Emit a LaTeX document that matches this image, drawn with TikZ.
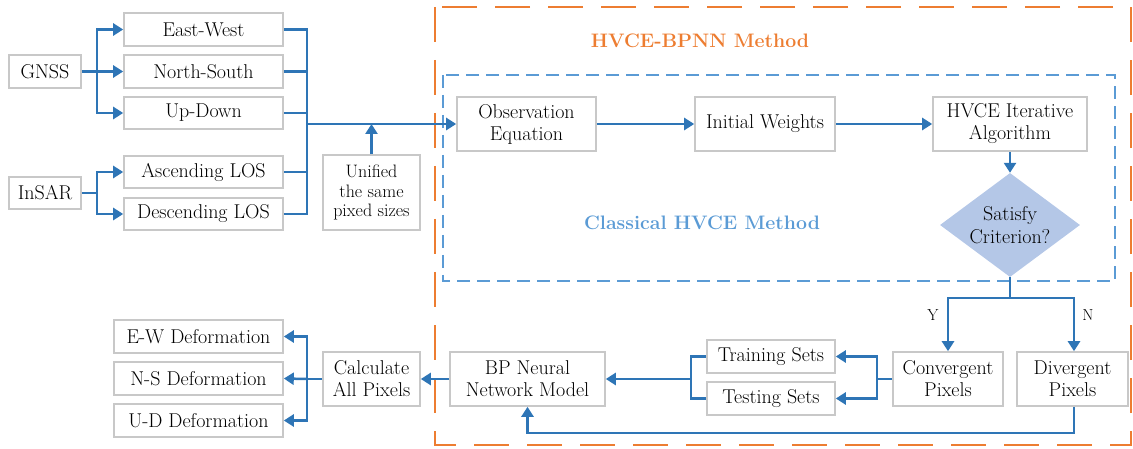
\documentclass[tikz,border=0pt]{standalone}
\usetikzlibrary{arrows.meta,shapes.geometric}
\definecolor{lineblue}{RGB}{46,117,182}
\definecolor{dashblue}{RGB}{91,155,213}
\definecolor{dashorange}{RGB}{237,125,49}
\definecolor{diafill}{RGB}{180,199,231}
\definecolor{boxgray}{RGB}{200,200,200}
\tikzset{
  box/.style={draw=boxgray, fill=white, line width=1.6pt, inner sep=1pt, align=center,
    font=\fontsize{20}{22}\selectfont},
  conn/.style={draw=lineblue, line width=2.5pt},
  arr/.style={conn, -{Triangle[length=10pt,width=12pt]}},
  lbl/.style={font=\fontsize{16}{18}\selectfont}
}
\begin{document}
\begin{tikzpicture}[x=1pt,y=-1pt]
\useasboundingbox (0,0) rectangle (1133,449);
% dashed frames
\draw[dashorange, line width=2.7pt, dash pattern=on 35pt off 18pt] (435,7) rectangle (1131,445);
\draw[dashblue, line width=2.5pt, dash pattern=on 13pt off 7pt] (443,75) rectangle (1115,281);
\node[font=\fontsize{19.5}{22}\selectfont\bfseries, text=dashorange] (title) at (700,41) {HVCE-BPNN Method};
\node[font=\fontsize{19.5}{22}\selectfont\bfseries, text=dashblue] (classical) at (702,223) {Classical HVCE Method};

% left inputs
\node[box, minimum width=72pt, minimum height=33pt] (gnss) at (45,71.5) {GNSS};
\node[box, minimum width=72pt, minimum height=32pt] (insar) at (45,193) {InSAR};
\node[box, minimum width=159pt, minimum height=33pt] (ew) at (203.5,29.5) {East-West};
\node[box, minimum width=159pt, minimum height=33pt] (ns) at (203.5,71.5) {North-South};
\node[box, minimum width=159pt, minimum height=32pt] (ud) at (203.5,113) {Up-Down};
\node[box, minimum width=159pt, minimum height=32pt] (asc) at (203.5,172) {Ascending LOS};
\node[box, minimum width=159pt, minimum height=32pt] (desc) at (203.5,214) {Descending LOS};
\node[box, minimum width=97pt, minimum height=75pt, font=\fontsize{18}{19.5}\selectfont] (unif) at (371.5,192.5) {Unified\\the same\\pixed sizes};

% classical method
\node[box, minimum width=139pt, minimum height=54pt] (obs) at (526.5,124) {Observation\\Equation};
\node[box, minimum width=140pt, minimum height=54pt] (iw) at (765,124) {Initial Weights};
\node[box, minimum width=154pt, minimum height=54pt] (hvce) at (1010,124) {HVCE Iterative\\Algorithm};
\node[diamond, fill=diafill, minimum width=140pt, minimum height=104pt, inner sep=0pt, aspect=1.35] (crit) at (1010,225) {};
\node[align=center, font=\fontsize{20}{23}\selectfont] (crittext) at (1010,225) {Satisfy\\Criterion?};

% bottom row
\node[box, minimum width=110pt, minimum height=54pt] (conv) at (948,379) {Convergent\\Pixels};
\node[box, minimum width=111pt, minimum height=54pt] (div) at (1072.5,379) {Divergent\\Pixels};
\node[box, minimum width=128pt, minimum height=33pt] (train) at (771,356.5) {Training Sets};
\node[box, minimum width=128pt, minimum height=33pt] (test) at (771,398.5) {Testing Sets};
\node[box, minimum width=155pt, minimum height=54pt] (bp) at (527.5,379) {BP Neural\\Network Model};
\node[box, minimum width=97pt, minimum height=54pt] (calc) at (371.5,379) {Calculate\\All Pixels};
\node[box, minimum width=169pt, minimum height=33pt] (ewd) at (198.5,336.5) {E-W Deformation};
\node[box, minimum width=169pt, minimum height=33pt] (nsd) at (198.5,378.5) {N-S Deformation};
\node[box, minimum width=169pt, minimum height=33pt] (udd) at (198.5,420.5) {U-D Deformation};

% coordinates
\coordinate (gb) at (97,71.5);
\coordinate (ib) at (97,193);
\coordinate (bus) at (307,124);
\coordinate (yb) at (1010,298);
\coordinate (cb) at (877,379);
\coordinate (tb) at (691,379);
\coordinate (db) at (307,379);

% left connectors
\draw[conn] (gnss.east) -- (gb);
\draw[arr] (gb) |- (ew.west);
\draw[arr] (gb) -- (ns.west);
\draw[arr] (gb) |- (ud.west);
\draw[conn] (insar.east) -- (ib);
\draw[arr] (ib) |- (asc.west);
\draw[arr] (ib) |- (desc.west);
\draw[conn] (ew.east) -| (bus);
\draw[conn] (desc.east) -| (bus);
\draw[conn] (ns.east) -- (ns.east -| bus);
\draw[conn] (ud.east) -- (ud.east -| bus);
\draw[conn] (asc.east) -- (asc.east -| bus);
\draw[arr] (bus) -- (obs.west);
\draw[arr] (unif.north) -- (unif.north |- bus);

% classical chain
\draw[arr] (obs.east) -- (iw.west);
\draw[arr] (iw.east) -- (hvce.west);
\draw[arr] (hvce.south) -- (crit.north);
\draw[conn] (crit.south) -- (yb);
\draw[arr] (yb) -| (conv.north);
\draw[arr] (yb) -| ([xshift=1.5pt]div.north);
\node[lbl] (ylab) at (933,315) {Y};
\node[lbl] (nlab) at (1088,315) {N};

% bottom connectors
\draw[conn] (conv.west) -- (cb);
\draw[arr] (cb) |- (train.east);
\draw[arr] (cb) |- (test.east);
\draw[conn] (train.west) -| (tb);
\draw[conn] (test.west) -| (tb);
\draw[arr] (tb) -- (bp.east);
\draw[arr] ([xshift=1.5pt]div.south) -- ++(0,26) -| (bp.south);
\draw[arr] (bp.west) -- (calc.east);
\draw[conn] (calc.west) -- (db);
\draw[arr] (db) |- (ewd.east);
\draw[arr] (db) -- (nsd.east);
\draw[arr] (db) |- (udd.east);
\end{tikzpicture}
\end{document}
